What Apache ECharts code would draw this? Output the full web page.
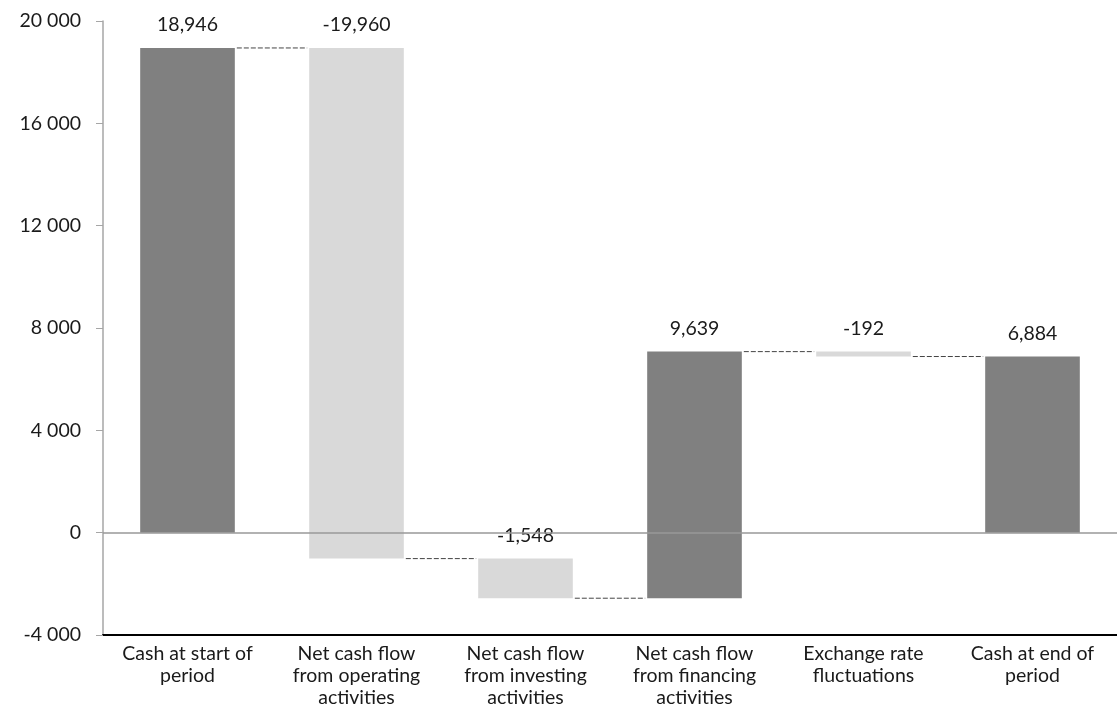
<!DOCTYPE html>
<html>
<head>
<meta charset="utf-8">
<script src="https://cdn.jsdelivr.net/npm/echarts@6/dist/echarts.min.js"></script>
<style>
  html, body { margin: 0; padding: 0; background: #fff; }
  #chart { width: 1117px; height: 709px; }
</style>
</head>
<body>
<div id="chart"></div>
<script>
// cash flow bridge, values in the reference's units
const categories = [
  'Cash at start of\nperiod',
  'Net cash flow\nfrom operating\nactivities',
  'Net cash flow\nfrom investing\nactivities',
  'Net cash flow\nfrom financing\nactivities',
  'Exchange rate\nfluctuations',
  'Cash at end of\nperiod'
]
const changes = [18946, -19960, -1548, 9639, -192, 6884]
const isTotal = [true, false, false, false, false, true]
const yTicks = { min: -4000, max: 20000, interval: 4000 }

const FONT = 'Lato'
const FS = 19.5
const DARK = '#808080'
const LIGHT = '#d9d9d9'

// build floating bars [index, low, high] and connector levels
let running = 0
const bars = []
const links = []
changes.forEach((v, i) => {
  let low, high
  if (isTotal[i]) {
    low = 0
    high = v
    running = v
  } else {
    const next = running + v
    low = Math.min(running, next)
    high = Math.max(running, next)
    running = next
  }
  bars.push([i, low, high, v])
  if (i < changes.length - 1) links.push([i, running])
})

const chart = echarts.init(document.getElementById('chart'))

chart.setOption({
  animation: false,
  grid: { left: 103, right: 0, top: 21, bottom: 69 },
  xAxis: {
    type: 'category',
    data: categories,
    axisLine: { onZero: false, lineStyle: { color: '#000', width: 2 } },
    axisTick: { show: false },
    axisLabel: {
      interval: 0,
      fontFamily: FONT,
      fontSize: FS,
      color: '#1a1a1a',
      lineHeight: 22,
      margin: 8
    }
  },
  yAxis: {
    type: 'value',
    min: yTicks.min,
    max: yTicks.max,
    interval: yTicks.interval,
    splitLine: { show: false },
    axisLine: { show: true, lineStyle: { color: '#a6a6a6', width: 1.5 } },
    axisTick: { show: true, length: 7, lineStyle: { color: '#a6a6a6' } },
    axisLabel: {
      fontFamily: FONT,
      fontSize: FS,
      color: '#1a1a1a',
      margin: 22,
      formatter: v => (v < 0 ? '-' : '') + Math.abs(v).toLocaleString('en-US').replace(/,/g, ' ')
    }
  },
  series: [
    {
      type: 'custom',
      name: 'bars',
      data: bars,
      encode: { x: 0, y: [1, 2] },
      renderItem: (params, api) => {
        const i = api.value(0)
        const top = api.coord([i, api.value(2)])
        const bottom = api.coord([i, api.value(1)])
        const w = api.size([1, 0])[0] * 0.56
        const v = changes[params.dataIndex]
        return {
          type: 'group',
          children: [
            {
              type: 'rect',
              shape: { x: top[0] - w / 2, y: top[1], width: w, height: bottom[1] - top[1] },
              style: { fill: v >= 0 ? DARK : LIGHT }
            },
            {
              type: 'text',
              style: {
                x: top[0],
                y: top[1] - 13,
                text: v.toLocaleString('en-US'),
                fontFamily: FONT,
                fontSize: FS,
                fill: '#1a1a1a',
                align: 'center',
                verticalAlign: 'bottom'
              }
            }
          ]
        }
      },
      markLine: {
        silent: true,
        symbol: 'none',
        label: { show: false },
        lineStyle: { color: '#999', type: 'solid', width: 1.5 },
        data: [{ yAxis: 0 }]
      },
      z: 2
    },
    {
      type: 'custom',
      name: 'links',
      data: links,
      encode: { x: 0, y: 1 },
      renderItem: (params, api) => {
        const i = api.value(0)
        const a = api.coord([i, api.value(1)])
        const b = api.coord([i + 1, api.value(1)])
        const w = api.size([1, 0])[0] * 0.56
        return {
          type: 'line',
          shape: { x1: a[0] + w / 2 + 2, y1: a[1], x2: b[0] - w / 2 - 2, y2: b[1] },
          style: { stroke: '#444', lineWidth: 1, lineDash: [5, 2] }
        }
      },
      z: 3
    }
  ]
})
</script>
</body>
</html>
